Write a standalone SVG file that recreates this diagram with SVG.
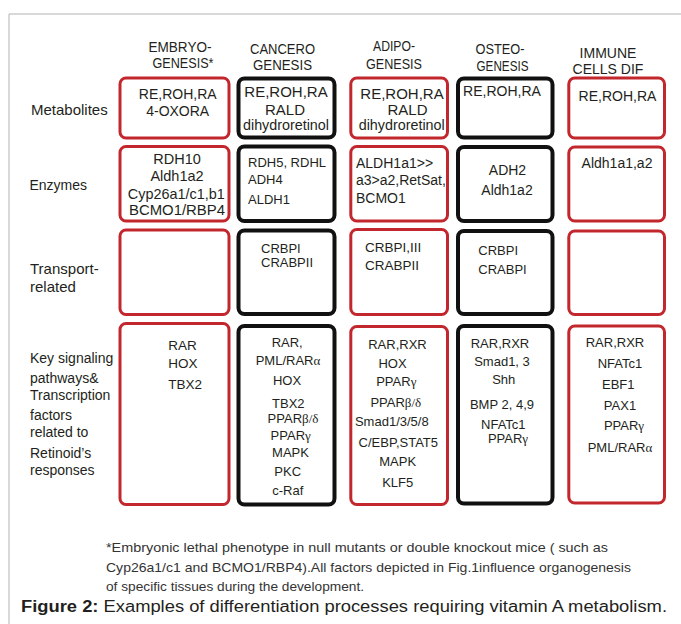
<svg xmlns="http://www.w3.org/2000/svg" width="681" height="624" viewBox="0 0 681 624">
<style>
text{font-family:"Liberation Sans",Arial,sans-serif;fill:#231f20;font-size:14px}
.m{text-anchor:middle}
.r{fill:#fff;stroke:#c1272d;stroke-width:3}
.k{fill:#fff;stroke:#111;stroke-width:4}
.g{font-family:"Liberation Serif","Times New Roman",serif;font-size:13px}
.s13{font-size:13px}
.fn{font-size:13.5px;fill:#333}
</style>
<rect width="681" height="624" fill="#fff"/>
<path d="M9 624V14H681" fill="none" stroke="#b3b3b3" stroke-width="1"/>

<g id="headers">
<text class="m" x="180" y="52" textLength="63" lengthAdjust="spacingAndGlyphs">EMBRYO-</text>
<text class="m" x="183" y="67.5" textLength="61" lengthAdjust="spacingAndGlyphs">GENESIS*</text>
<text class="m" x="282.5" y="53.5" textLength="65" lengthAdjust="spacingAndGlyphs">CANCERO</text>
<text class="m" x="282.5" y="69.5" textLength="59" lengthAdjust="spacingAndGlyphs">GENESIS</text>
<text class="m" x="394" y="51" textLength="42" lengthAdjust="spacingAndGlyphs">ADIPO-</text>
<text class="m" x="394" y="68.5" textLength="56" lengthAdjust="spacingAndGlyphs">GENESIS</text>
<text class="m" x="500" y="54" textLength="49" lengthAdjust="spacingAndGlyphs">OSTEO-</text>
<text class="m" x="502.5" y="71" textLength="52" lengthAdjust="spacingAndGlyphs">GENESIS</text>
<text class="m" x="608" y="57.5">IMMUNE</text>
<text class="m" x="608" y="73.5">CELLS DIF</text>
</g>

<g id="row-labels">
<text x="31" y="115" style="font-size:15px">Metabolites</text>
<text x="29.5" y="190">Enzymes</text>
<text x="30" y="273.5" style="font-size:15px">Transport-</text>
<text x="30" y="292" style="font-size:15px">related</text>
<text x="30" y="362.5">Key signaling</text>
<text x="30" y="383">pathways&amp;</text>
<text x="30" y="400">Transcription</text>
<text x="30" y="420">factors</text>
<text x="30" y="437">related to</text>
<text x="30" y="458">Retinoid’s</text>
<text x="30" y="475">responses</text>
</g>

<g id="embryo-metabolites">
<rect class="r" x="120" y="78" width="109" height="60" rx="6"/>
<text class="m" x="177.7" y="98.5">RE,ROH,RA</text>
<text class="m" x="177.7" y="116">4-OXORA</text>
</g>
<g id="cancero-metabolites">
<rect class="k" x="238.5" y="78.5" width="96" height="59" rx="6"/>
<text class="m" x="286" y="97" style="font-size:15px">RE,ROH,RA</text>
<text class="m" x="285" y="114.5" style="font-size:15px">RALD</text>
<text class="m" x="286" y="130" textLength="86" lengthAdjust="spacingAndGlyphs">dihydroretinol</text>
</g>
<g id="adipo-metabolites">
<rect class="r" x="350.8" y="78" width="96.7" height="60" rx="6"/>
<text class="m" x="402" y="98.5" style="font-size:15px">RE,ROH,RA</text>
<text class="m" x="407.5" y="114.5" style="font-size:15px">RALD</text>
<text class="m" x="401.7" y="130" textLength="86" lengthAdjust="spacingAndGlyphs">dihydroretinol</text>
</g>
<g id="osteo-metabolites">
<rect class="k" x="458" y="78.5" width="94.5" height="59" rx="6"/>
<text class="m" x="502" y="96">RE,ROH,RA</text>
</g>
<g id="immune-metabolites">
<rect class="r" x="568.8" y="78" width="95.7" height="60" rx="6"/>
<text class="m" x="617.5" y="101">RE,ROH,RA</text>
</g>

<g id="embryo-enzymes">
<rect class="r" x="120" y="146.5" width="109" height="74.5" rx="6"/>
<text class="m" x="177" y="164" style="font-size:14.5px">RDH10</text>
<text class="m" x="177" y="181" style="font-size:14.5px">Aldh1a2</text>
<text class="m" x="176.3" y="198.5" style="font-size:14.5px" textLength="97" lengthAdjust="spacingAndGlyphs">Cyp26a1/c1,b1</text>
<text class="m" x="177" y="215" style="font-size:14.5px" textLength="96" lengthAdjust="spacingAndGlyphs">BCMO1/RBP4</text>
</g>
<g id="cancero-enzymes">
<rect class="k" x="238.5" y="146.5" width="96" height="74.5" rx="6"/>
<text class="s13" x="248" y="167" textLength="78" lengthAdjust="spacingAndGlyphs">RDH5, RDHL</text>
<text class="s13" x="248" y="183.5">ADH4</text>
<text class="s13" x="248" y="203.5">ALDH1</text>
</g>
<g id="adipo-enzymes">
<rect class="r" x="350.8" y="146.5" width="96.7" height="74.5" rx="6"/>
<text x="356" y="167.5">ALDH1a1&gt;&gt;</text>
<text x="356" y="185">a3&gt;a2,RetSat,</text>
<text x="356" y="203">BCMO1</text>
</g>
<g id="osteo-enzymes">
<rect class="k" x="458" y="147" width="94.5" height="74" rx="6"/>
<text class="m" x="507.5" y="175">ADH2</text>
<text class="m" x="507" y="194.5">Aldh1a2</text>
</g>
<g id="immune-enzymes">
<rect class="r" x="568.8" y="147" width="95.7" height="74" rx="6"/>
<text class="m" x="617" y="167.5">Aldh1a1,a2</text>
</g>

<g id="embryo-transport">
<rect class="r" x="120" y="230" width="109" height="84.5" rx="6"/>
</g>
<g id="cancero-transport">
<rect class="k" x="238.5" y="230.5" width="96" height="83.5" rx="6"/>
<text class="s13" x="261" y="253">CRBPI</text>
<text class="s13" x="261" y="266.5">CRABPII</text>
</g>
<g id="adipo-transport">
<rect class="r" x="350.8" y="229.5" width="96.7" height="85" rx="6"/>
<text x="365" y="252" style="font-size:13.5px">CRBPI,III</text>
<text x="365" y="270" style="font-size:13.5px">CRABPII</text>
</g>
<g id="osteo-transport">
<rect class="k" x="458" y="231" width="94.5" height="83" rx="6"/>
<text class="s13" x="478.3" y="254.5">CRBPI</text>
<text class="s13" x="478.3" y="273.5">CRABPI</text>
</g>
<g id="immune-transport">
<rect class="r" x="568.8" y="231" width="95.7" height="83.5" rx="6"/>
</g>

<g id="embryo-signaling">
<rect class="r" x="120" y="323.5" width="109" height="181" rx="6"/>
<text x="168.3" y="349.5" style="font-size:13.5px">RAR</text>
<text x="168.3" y="367.5" style="font-size:13.5px">HOX</text>
<text x="168.3" y="389" style="font-size:13.5px">TBX2</text>
</g>
<g id="cancero-signaling">
<rect class="k" x="238.5" y="326" width="96" height="178.5" rx="6"/>
<text class="m s13" x="287.2" y="347">RAR,</text>
<text class="m s13" x="288" y="365">PML/RAR<tspan class="g">α</tspan></text>
<text class="m s13" x="287" y="385">HOX</text>
<text class="m s13" x="288.3" y="407.5">TBX2</text>
<text class="m s13" x="293" y="423">PPAR<tspan class="g">β/δ</tspan></text>
<text class="m s13" x="290.7" y="440">PPAR<tspan class="g">γ</tspan></text>
<text class="m s13" x="290.5" y="457">MAPK</text>
<text class="m s13" x="287.7" y="476">PKC</text>
<text class="m s13" x="287.8" y="495">c-Raf</text>
</g>
<g id="adipo-signaling">
<rect class="r" x="350.8" y="326.5" width="96.7" height="178" rx="6"/>
<text class="m s13" x="397.5" y="348.5">RAR,RXR</text>
<text class="m s13" x="392.5" y="367.5">HOX</text>
<text class="m s13" x="396.3" y="386">PPAR<tspan class="g">γ</tspan></text>
<text class="m s13" x="395.8" y="407">PPAR<tspan class="g">β/δ</tspan></text>
<text class="m s13" x="391.8" y="426">Smad1/3/5/8</text>
<text class="m s13" x="398.3" y="447">C/EBP,STAT5</text>
<text class="m s13" x="397.7" y="466">MAPK</text>
<text class="m s13" x="397.7" y="487">KLF5</text>
</g>
<g id="osteo-signaling">
<rect class="k" x="458" y="326" width="94.5" height="177.5" rx="6"/>
<text class="m s13" x="500" y="347.5">RAR,RXR</text>
<text class="m s13" x="502" y="366">Smad1, 3</text>
<text class="m s13" x="503.7" y="384">Shh</text>
<text class="m s13" x="502" y="409">BMP 2, 4,9</text>
<text class="m s13" x="503.3" y="428.5">NFATc1</text>
<text class="m s13" x="508" y="443">PPAR<tspan class="g">γ</tspan></text>
</g>
<g id="immune-signaling">
<rect class="r" x="568.8" y="326" width="95.7" height="177" rx="6"/>
<text class="m s13" x="615" y="347">RAR,RXR</text>
<text class="m s13" x="620" y="367.5">NFATc1</text>
<text class="m s13" x="618.3" y="389">EBF1</text>
<text class="m s13" x="620" y="409.5">PAX1</text>
<text class="m s13" x="624" y="430">PPAR<tspan class="g">γ</tspan></text>
<text class="m s13" x="620" y="452">PML/RAR<tspan class="g">α</tspan></text>
</g>

<g id="footnote">
<text class="fn" x="106" y="551.5" textLength="502" lengthAdjust="spacingAndGlyphs">*Embryonic lethal phenotype in null mutants or double knockout mice ( such as</text>
<text class="fn" x="106" y="571.5" textLength="525" lengthAdjust="spacingAndGlyphs">Cyp26a1/c1 and BCMO1/RBP4).All factors depicted in Fig.1influence organogenesis</text>
<text class="fn" x="106" y="590.5" textLength="258" lengthAdjust="spacingAndGlyphs">of specific tissues during the development.</text>
</g>
<g id="caption">
<text x="21" y="611.5" style="font-size:16px" textLength="646" lengthAdjust="spacingAndGlyphs"><tspan font-weight="bold">Figure 2:</tspan>  Examples of differentiation processes requiring vitamin A metabolism.</text>
</g>
</svg>
